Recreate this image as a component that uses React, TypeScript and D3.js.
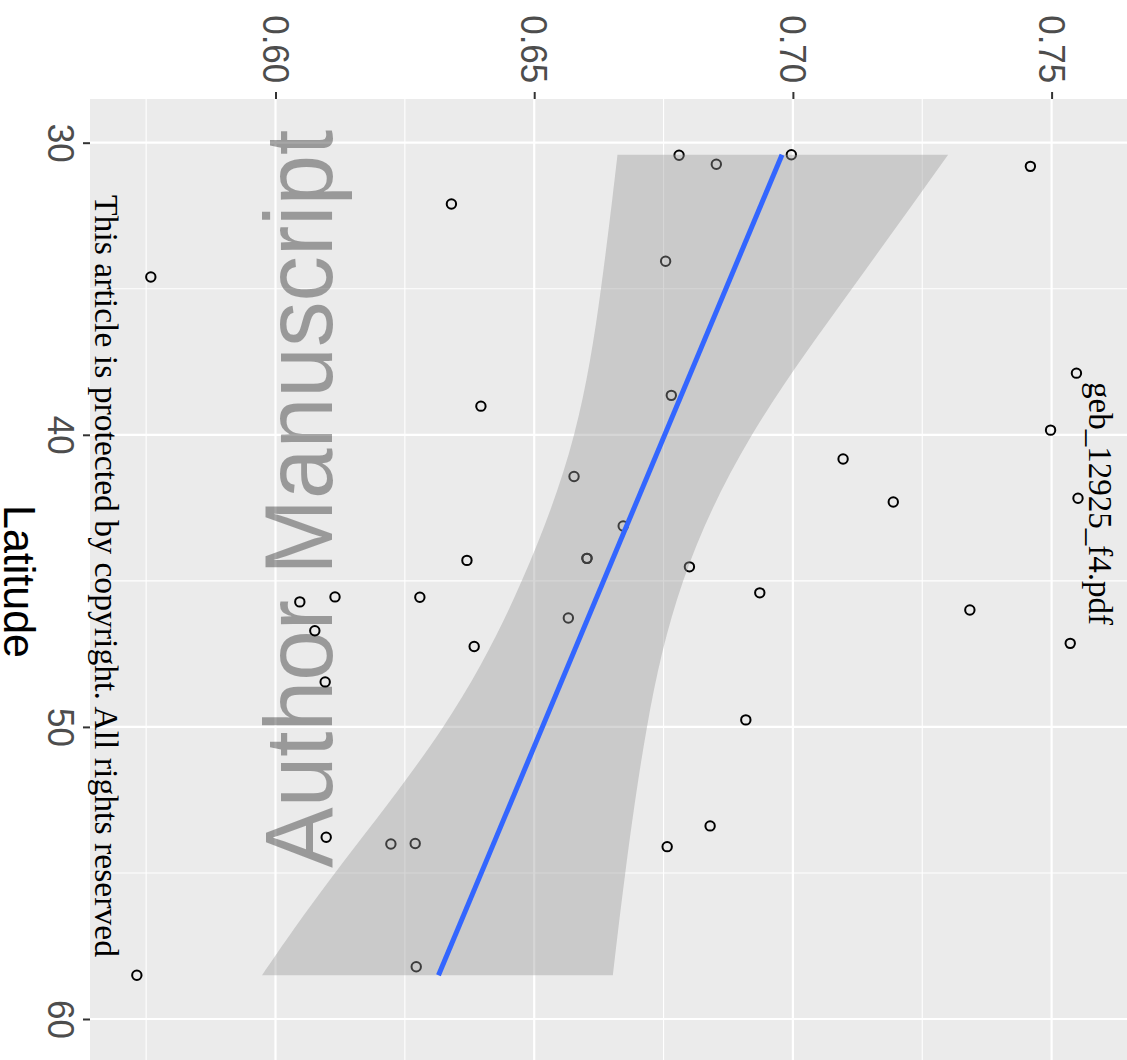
import React, { useEffect, useRef } from 'react';
import * as d3 from 'd3';

// observed points (latitude, index value)
const latitude = [
  30.43, 30.74, 30.41, 30.81, 32.1, 34.06, 34.6, 37.89, 38.65, 39.02, 39.84, 40.83, 41.43,
  42.3, 42.17, 43.12, 44.23, 44.23, 44.3, 44.52, 45.41, 45.55, 45.56, 45.72, 46.0, 46.27,
  46.71, 47.25, 47.14, 48.46, 49.76, 53.39, 53.78, 54.01, 53.99, 54.1, 58.21, 58.5,
];
const value = [
  0.678, 0.6852, 0.6997, 0.7459, 0.634, 0.6754, 0.5759, 0.7548, 0.6765, 0.6397, 0.7498,
  0.7097, 0.6577, 0.7194, 0.7551, 0.6672, 0.6602, 0.6602, 0.637, 0.68, 0.6936, 0.6115,
  0.6279, 0.6047, 0.7342, 0.6566, 0.6076, 0.6384, 0.7536, 0.6096, 0.6909, 0.684, 0.6098,
  0.6223, 0.627, 0.6757, 0.6272, 0.5732,
];

// fitted line and its confidence band
const fitLatitude = [30.41, 58.5];
const fitValue = [0.6979, 0.6315];

const bandLatitude = [30.41, 35, 40, 45, 50, 55, 58.5];
const bandLower = [0.6661, 0.6629, 0.6577, 0.6476, 0.6324, 0.6115, 0.5974];
const bandUpper = [0.73, 0.7114, 0.6921, 0.6788, 0.6718, 0.6676, 0.6652];

const valueTicks = [0.6, 0.65, 0.7, 0.75];
const valueMinor = [0.575, 0.625, 0.675, 0.725];
const latTicks = [30, 40, 50, 60];
const latMinor = [35, 45, 55];

const SANS = 'Liberation Sans, Arial, Helvetica, sans-serif';
const SERIF = 'Liberation Serif, Times New Roman, serif';

const Chart = () => {
  const ref = useRef<SVGSVGElement>(null);

  const graph = () => {
    const svg = d3.select(ref.current);
    svg.selectAll('*').remove();

    const left = 90,
      top = 99,
      right = 1127,
      bottom = 1060;

    const x = d3.scaleLinear().domain([0.6, 0.75]).range([275.5, 1051.6]);
    const y = d3.scaleLinear().domain([30, 60]).range([142.7, 1019]);

    // panel
    svg
      .append('rect')
      .attr('x', left)
      .attr('y', top)
      .attr('width', right - left)
      .attr('height', bottom - top)
      .attr('fill', '#EBEBEB');

    const grid = svg.append('g');
    grid
      .selectAll('line.vmin')
      .data(valueMinor)
      .enter()
      .append('line')
      .attr('x1', (d) => x(d))
      .attr('x2', (d) => x(d))
      .attr('y1', top)
      .attr('y2', bottom)
      .attr('stroke', '#fff')
      .attr('stroke-width', 1.1);
    grid
      .selectAll('line.lmin')
      .data(latMinor)
      .enter()
      .append('line')
      .attr('y1', (d) => y(d))
      .attr('y2', (d) => y(d))
      .attr('x1', left)
      .attr('x2', right)
      .attr('stroke', '#fff')
      .attr('stroke-width', 1.1);
    grid
      .selectAll('line.vmaj')
      .data(valueTicks)
      .enter()
      .append('line')
      .attr('x1', (d) => x(d))
      .attr('x2', (d) => x(d))
      .attr('y1', top)
      .attr('y2', bottom)
      .attr('stroke', '#fff')
      .attr('stroke-width', 2.2);
    grid
      .selectAll('line.lmaj')
      .data(latTicks)
      .enter()
      .append('line')
      .attr('y1', (d) => y(d))
      .attr('y2', (d) => y(d))
      .attr('x1', left)
      .attr('x2', right)
      .attr('stroke', '#fff')
      .attr('stroke-width', 2.2);

    // watermark
    svg
      .append('text')
      .attr('transform', 'translate(332,868) rotate(-90) scale(1,1.06)')
      .attr('font-family', SANS)
      .attr('font-size', 91)
      .attr('fill', '#000')
      .attr('fill-opacity', 0.35)
      .text('Author Manuscript');

    // points
    svg
      .append('g')
      .selectAll('circle')
      .data(latitude.map((lat, i) => ({ lat, v: value[i] })))
      .enter()
      .append('circle')
      .attr('cx', (d) => x(d.v))
      .attr('cy', (d) => y(d.lat))
      .attr('r', 4.7)
      .attr('fill', 'none')
      .attr('stroke', '#000')
      .attr('stroke-width', 2);

    // confidence band
    const band = bandLatitude.map((lat, i) => ({ lat, lo: bandLower[i], hi: bandUpper[i] }));
    svg
      .append('path')
      .datum(band)
      .attr('fill', '#999999')
      .attr('fill-opacity', 0.4)
      .attr(
        'd',
        d3
          .area<{ lat: number; lo: number; hi: number }>()
          .y((d) => y(d.lat))
          .x0((d) => x(d.lo))
          .x1((d) => x(d.hi))
          .curve(d3.curveNatural)
      );

    // fitted line
    svg
      .append('path')
      .datum(fitLatitude.map((lat, i) => ({ lat, v: fitValue[i] })))
      .attr('fill', 'none')
      .attr('stroke', '#3366FF')
      .attr('stroke-width', 5)
      .attr(
        'd',
        d3
          .line<{ lat: number; v: number }>()
          .x((d) => x(d.v))
          .y((d) => y(d.lat))
      );

    // value axis along the top
    const topAxis = svg
      .append('g')
      .attr('transform', `translate(0,${top})`)
      .call(
        d3
          .axisTop(x)
          .tickValues(valueTicks)
          .tickSize(7)
          .tickFormat(d3.format('.2f'))
      );
    topAxis.select('.domain').remove();
    topAxis.selectAll('line').attr('stroke', '#333').attr('stroke-width', 2);
    topAxis
      .selectAll('text')
      .attr('x', 0)
      .attr('y', 0)
      .attr('dy', '0.36em')
      .attr('text-anchor', 'end')
      .attr('transform', `translate(0,${83.3 - top}) rotate(90) scale(1,1.07)`)
      .attr('font-family', SANS)
      .attr('font-size', 35)
      .attr('fill', '#4D4D4D');

    // latitude axis on the left
    const leftAxis = svg
      .append('g')
      .attr('transform', `translate(${left},0)`)
      .call(d3.axisLeft(y).tickValues(latTicks).tickSize(7));
    leftAxis.select('.domain').remove();
    leftAxis.selectAll('line').attr('stroke', '#333').attr('stroke-width', 2);
    leftAxis
      .selectAll('text')
      .attr('x', 0)
      .attr('y', 0)
      .attr('dy', 0)
      .attr('text-anchor', 'middle')
      .attr('transform', `translate(${48.3 - left},0) rotate(90) scale(1,1.07)`)
      .attr('font-family', SANS)
      .attr('font-size', 35)
      .attr('fill', '#4D4D4D');

    svg
      .append('text')
      .attr('transform', 'translate(4,581.5) rotate(90) scale(1,1.04)')
      .attr('text-anchor', 'middle')
      .attr('font-family', SANS)
      .attr('font-size', 43)
      .attr('fill', '#000')
      .text('Latitude');

    // publisher stamps
    svg
      .append('text')
      .attr('transform', 'translate(95,195) rotate(90)')
      .attr('font-family', SERIF)
      .attr('font-size', 33.5)
      .attr('textLength', 762)
      .attr('lengthAdjust', 'spacingAndGlyphs')
      .attr('fill', '#000')
      .text('This article is protected by copyright. All rights reserved');

    svg
      .append('text')
      .attr('transform', 'translate(1089,382) rotate(90)')
      .attr('font-family', SERIF)
      .attr('font-size', 33)
      .attr('fill', '#000')
      .text('geb_12925_f4.pdf');
  };

  // eslint-disable-next-line
  useEffect(() => graph(), []);
  return (
    <svg
      ref={ref}
      width="1127"
      height="1060"
      style={{ position: 'absolute', left: 0, top: 0 }}></svg>
  );
};

export default function App() {
  return <Chart />;
}
